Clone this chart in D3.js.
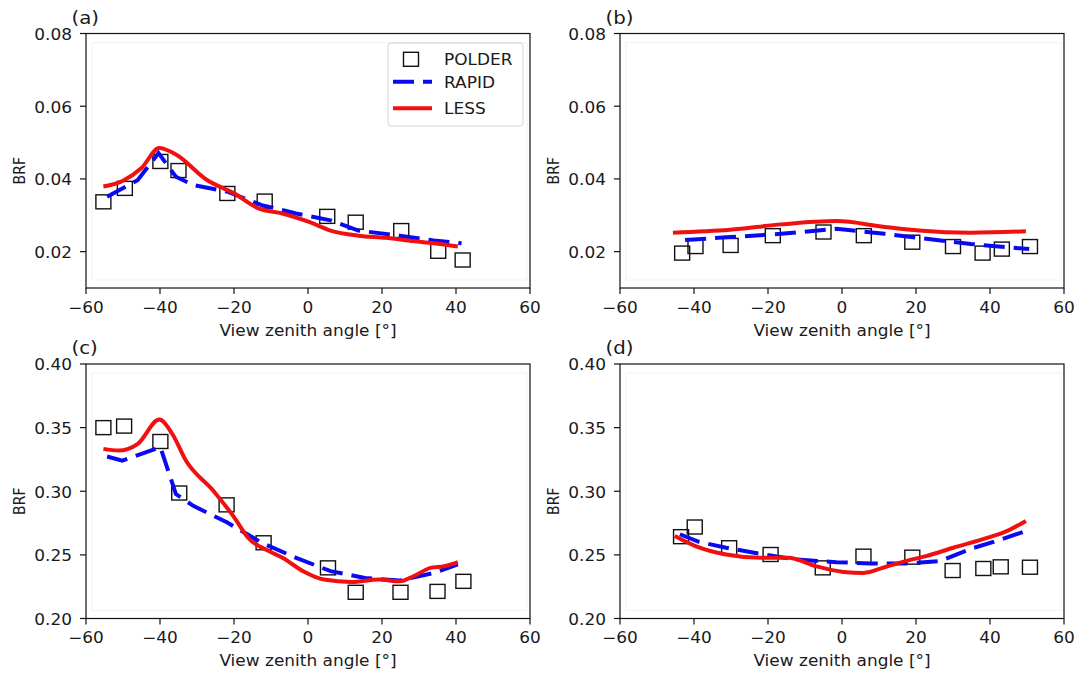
<!DOCTYPE html>
<html><head><meta charset="utf-8">
<script src="https://cdn.jsdelivr.net/npm/d3@7"></script>
<style>
body{margin:0;background:#fff}
svg{display:block}
text{font-family:"DejaVu Sans",sans-serif;fill:#1a1a1a}
</style>
</head><body>
<svg id="chart" width="1080" height="677"></svg>
<script>
// ---------------- data ----------------
const xTicks = [-60, -40, -20, 0, 20, 40, 60];
const yTicksTop = [0.02, 0.04, 0.06, 0.08];
const yTicksBottom = [0.20, 0.25, 0.30, 0.35, 0.40];
const panelLabels = ["(a)", "(b)", "(c)", "(d)"];
const seriesNames = ["POLDER", "RAPID", "LESS"];
const xLabel = "View zenith angle [°]";
const yLabel = "BRF";

// panel (a)
const polderA = [[-55.3,0.0337],[-49.5,0.0374],[-39.9,0.0448],[-35.0,0.0423],[-21.8,0.0360],[-11.7,0.0339],[5.2,0.0297],[12.9,0.0281],[25.2,0.0258],[35.2,0.0201],[41.8,0.0177]];
const rapidA = [[-54.3,0.0351],[-46.0,0.0397],[-40.4,0.0471],[-35.7,0.0406],[-31.0,0.0383],[-21.8,0.0365],[-12.5,0.0328],[-3.2,0.0305],[6.1,0.0286],[13.6,0.0258],[24.8,0.0244],[34.0,0.0231],[41.5,0.0223]];
const lessA = [[-55.3,0.0379],[-50.0,0.0395],[-45.0,0.0430],[-40.2,0.0485],[-35.7,0.0467],[-27.3,0.0397],[-19.9,0.0360],[-13.4,0.0319],[-6.9,0.0305],[0.5,0.0281],[6.1,0.0258],[13.6,0.0244],[21.0,0.0238],[28.5,0.0229],[34.0,0.0223],[40.5,0.0214]];
// panel (b)
const polderB = [[-43.2,0.0196],[-39.6,0.0214],[-30.1,0.0217],[-18.7,0.0244],[-5.0,0.0254],[5.9,0.0244],[19.0,0.0226],[30.0,0.0214],[38.0,0.0196],[43.2,0.0207],[50.8,0.0214]];
const rapidB = [[-42.4,0.0232],[-30.3,0.0240],[-16.4,0.0249],[-1.5,0.0263],[11.5,0.0249],[20.8,0.0238],[34.8,0.0221],[50.6,0.0207]];
const lessB = [[-45.7,0.0252],[-30.3,0.0260],[-16.4,0.0275],[-1.5,0.0284],[11.5,0.0268],[20.8,0.0258],[34.8,0.0252],[49.7,0.0256]];
// panel (c)
const polderC = [[-55.3,0.3500],[-49.7,0.3512],[-39.9,0.3391],[-34.8,0.2986],[-22.0,0.2893],[-12.0,0.2595],[5.4,0.2398],[12.9,0.2206],[25.0,0.2206],[35.0,0.2213],[42.0,0.2292]];
const rapidC = [[-54.3,0.3273],[-50.2,0.3241],[-39.9,0.3346],[-35.7,0.2978],[-31.0,0.2885],[-21.8,0.2754],[-12.5,0.2595],[-3.2,0.2477],[6.1,0.2372],[15.4,0.2319],[24.8,0.2298],[34.0,0.2358],[40.5,0.2425]];
const lessC = [[-55.3,0.3333],[-51.2,0.3320],[-46.0,0.3373],[-40.2,0.3563],[-36.7,0.3452],[-33.0,0.3241],[-25.6,0.3004],[-19.9,0.2793],[-16.2,0.2635],[-10.6,0.2530],[-6.9,0.2477],[-1.3,0.2372],[4.3,0.2306],[11.7,0.2287],[19.2,0.2306],[24.8,0.2292],[28.5,0.2332],[33.1,0.2398],[36.8,0.2411],[40.5,0.2443]];
// panel (d)
const polderD = [[-43.5,0.2643],[-39.8,0.2719],[-30.5,0.2556],[-19.3,0.2503],[-5.2,0.2398],[5.8,0.2490],[19.0,0.2482],[29.9,0.2377],[38.2,0.2393],[42.9,0.2406],[50.8,0.2403]];
const rapidD = [[-43.8,0.2662],[-38.7,0.2603],[-31.3,0.2556],[-22.0,0.2508],[-12.6,0.2464],[-1.5,0.2443],[7.8,0.2432],[17.1,0.2432],[26.4,0.2451],[35.7,0.2556],[42.2,0.2614],[49.7,0.2688]];
const lessD = [[-45.2,0.2648],[-39.6,0.2569],[-31.3,0.2503],[-22.0,0.2477],[-14.5,0.2477],[-7.1,0.2411],[0.4,0.2366],[5.9,0.2358],[11.5,0.2403],[17.1,0.2451],[22.7,0.2490],[30.1,0.2556],[39.4,0.2635],[45.0,0.2693],[49.7,0.2767]];

// ---------------- layout / style ----------------
const SX = 1.13; // horizontal text stretch of the original
const C_RAPID = "#0a0af0", C_LESS = "#f01010";
const panels = [
  {label: panelLabels[0], left: 86,  top: 33.5, yDomain: [0.01, 0.08], yTicks: yTicksTop,    fmt: d3.format(".2f"), polder: polderA, rapid: rapidA, less: lessA, legend: true},
  {label: panelLabels[1], left: 620, top: 33.5, yDomain: [0.01, 0.08], yTicks: yTicksTop,    fmt: d3.format(".2f"), polder: polderB, rapid: rapidB, less: lessB},
  {label: panelLabels[2], left: 86,  top: 364,  yDomain: [0.20, 0.40], yTicks: yTicksBottom, fmt: d3.format(".2f"), polder: polderC, rapid: rapidC, less: lessC},
  {label: panelLabels[3], left: 620, top: 364,  yDomain: [0.20, 0.40], yTicks: yTicksBottom, fmt: d3.format(".2f"), polder: polderD, rapid: rapidD, less: lessD}
];
const W = 444, H = 254.5;

const svg = d3.select("#chart");

function txt(g, x, y, s, o = {}) {
  const t = g.append("text")
    .attr("transform", `translate(${x},${y}) scale(${SX},1)` + (o.rot ? ` rotate(${o.rot})` : ""))
    .attr("text-anchor", o.anchor || "start")
    .attr("font-size", o.size || 15)
    .text(s);
  if (o.dy) t.attr("dy", o.dy);
  return t;
}

panels.forEach(p => {
  const g = svg.append("g").attr("transform", `translate(${p.left},${p.top})`);
  const x = d3.scaleLinear().domain([-60, 60]).range([0, W]);
  const y = d3.scaleLinear().domain(p.yDomain).range([H, 0]);

  // faint inner rectangle from the original image
  g.append("rect").attr("x", 6).attr("y", 9).attr("width", W - 9).attr("height", H - 17)
    .attr("fill", "none").attr("stroke", "#f2f2f2").attr("stroke-width", 1);

  // POLDER squares
  g.selectAll("rect.sq").data(p.polder).join("rect").attr("class", "sq")
    .attr("x", d => x(d[0]) - 7.5).attr("y", d => y(d[1]) - 7)
    .attr("width", 15).attr("height", 14)
    .attr("fill", "none").attr("stroke", "#111").attr("stroke-width", 1.4);

  // RAPID dashed
  g.append("path").datum(p.rapid)
    .attr("d", d3.line().x(d => x(d[0])).y(d => y(d[1])).curve(d3.curveLinear))
    .attr("fill", "none").attr("stroke", C_RAPID).attr("stroke-width", 4)
    .attr("stroke-dasharray", "21,9");

  // LESS solid
  g.append("path").datum(p.less)
    .attr("d", d3.line().x(d => x(d[0])).y(d => y(d[1])).curve(d3.curveMonotoneX))
    .attr("fill", "none").attr("stroke", C_LESS).attr("stroke-width", 4)
    .attr("stroke-linejoin", "round");

  // frame
  g.append("rect").attr("width", W).attr("height", H)
    .attr("fill", "none").attr("stroke", "#111").attr("stroke-width", 1.2);

  // x axis ticks
  const xa = g.append("g").attr("transform", `translate(0,${H})`);
  xTicks.forEach(t => {
    xa.append("line").attr("x1", x(t)).attr("x2", x(t)).attr("y1", 0).attr("y2", 6)
      .attr("stroke", "#111").attr("stroke-width", 1.2);
    txt(xa, x(t), 19.5, d3.format("d")(t), {anchor: "middle", dy: "0.36em"});
  });
  // y axis ticks
  p.yTicks.forEach(t => {
    g.append("line").attr("x1", -6).attr("x2", 0).attr("y1", y(t)).attr("y2", y(t))
      .attr("stroke", "#111").attr("stroke-width", 1.2);
    txt(g, -14, y(t) + 1, p.fmt(t), {anchor: "end", dy: "0.36em"});
  });

  // axis labels
  txt(g, W / 2, H + 47.5, xLabel, {anchor: "middle"});
  txt(g, -67, H / 2 + 10, yLabel, {anchor: "middle", rot: -90, size: 14, dy: "0.36em"});
  // panel label
  txt(g, -14.5, -10, p.label, {size: 17.5});

  // legend
  if (p.legend) {
    const lg = g.append("g").attr("transform", `translate(${388 - p.left},${43 - p.top})`);
    lg.append("rect").attr("width", 135).attr("height", 83).attr("rx", 3)
      .attr("fill", "#fff").attr("fill-opacity", 0.85).attr("stroke", "#d4d4d4");
    const rows = [16.3, 38.7, 65.3];
    lg.append("rect").attr("x", 15.5).attr("y", rows[0] - 7).attr("width", 15).attr("height", 14)
      .attr("fill", "none").attr("stroke", "#111").attr("stroke-width", 1.4);
    lg.append("line").attr("x1", 5).attr("x2", 44).attr("y1", rows[1]).attr("y2", rows[1])
      .attr("stroke", C_RAPID).attr("stroke-width", 4).attr("stroke-dasharray", "21,9");
    lg.append("line").attr("x1", 5).attr("x2", 44).attr("y1", rows[2]).attr("y2", rows[2])
      .attr("stroke", C_LESS).attr("stroke-width", 4);
    seriesNames.forEach((s, i) => txt(lg, 56, rows[i] + 0.5, s, {dy: "0.36em"}));
  }
});
</script>
</body></html>
